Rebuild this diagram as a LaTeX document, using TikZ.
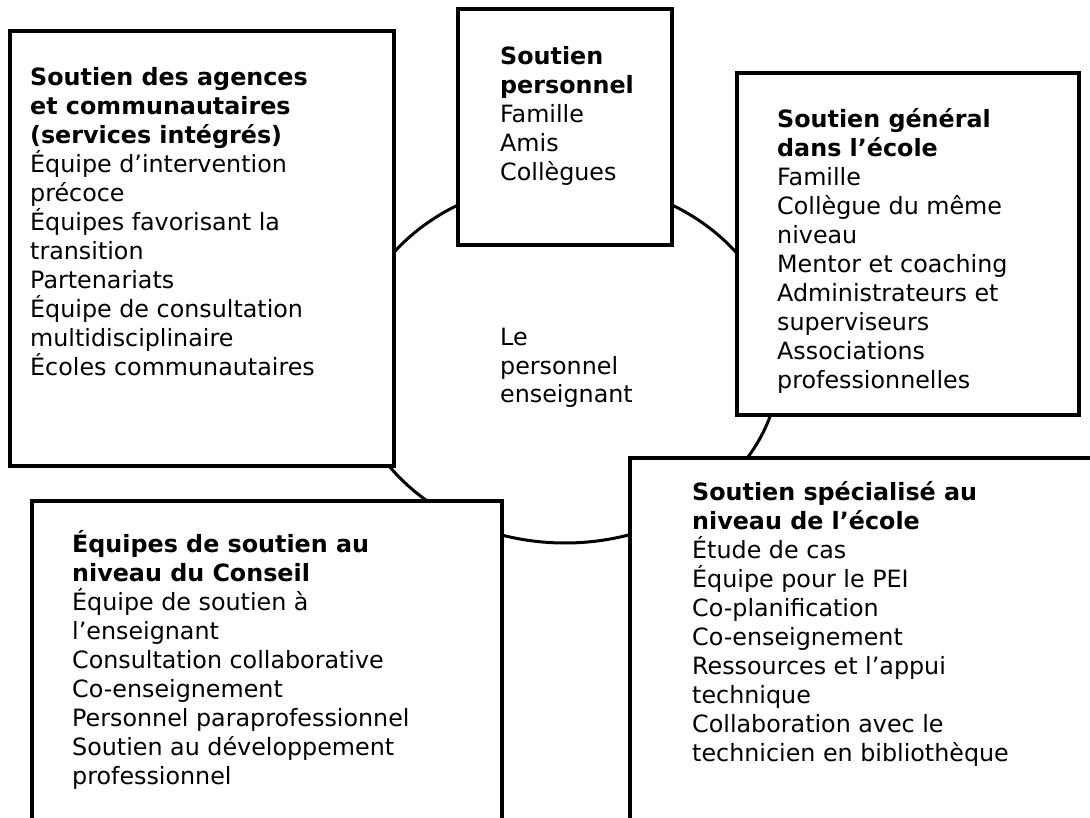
\documentclass[tikz,border=0pt]{standalone}
\usepackage{fontspec}
\setmainfont{DejaVu Sans}
\newcommand\linestack[1]{\vtop{\baselineskip=29pt\lineskiplimit=-100pt\halign{##\hfil\cr#1\crcr}}}
\tikzset{
  boxst/.style={draw=black,fill=white,line width=3.5pt},
  ringst/.style={draw=black,line width=3pt},
  txt/.style={anchor=base west,inner sep=0pt,font=\fontsize{23.8}{29}\selectfont},
}
\begin{document}
\begin{tikzpicture}[x=1pt,y=-1pt]
\useasboundingbox (0,0) rectangle (1090,818);
\clip (0,0) rectangle (1090,818);
\fill[white] (0,0) rectangle (1090,818);
% central ring
\draw[ringst] (565,362) ellipse [x radius=215, y radius=181];
% boxes
\path[boxst] (10,31) rectangle (394,466);
\path[boxst] (458,9) rectangle (672,245);
\path[boxst] (737,73) rectangle (1079,415);
\path[boxst] (32,501) rectangle (502,840);
\path[boxst] (630,458) rectangle (1110,840);
% texts
\node[txt] (agences) at (30,86) {\linestack{%
\textbf{Soutien des agences}\cr
\textbf{et communautaires}\cr
\textbf{(services intégrés)}\cr
Équipe d’intervention\cr
précoce\cr
Équipes favorisant la\cr
transition\cr
Partenariats\cr
Équipe de consultation\cr
multidisciplinaire\cr
Écoles communautaires}};
\node[txt] (perso) at (500,65) {\linestack{%
\textbf{Soutien}\cr
\textbf{personnel}\cr
Famille\cr
Amis\cr
Collègues}};
\node[txt] (general) at (777,128) {\linestack{%
\textbf{Soutien général}\cr
\textbf{dans l’école}\cr
Famille\cr
Collègue du même\cr
niveau\cr
Mentor et coaching\cr
Administrateurs et\cr
superviseurs\cr
Associations\cr
professionnelles}};
\node[txt] (centre) at (500,345) {\linestack{%
Le\cr
personnel\cr
enseignant}};
\node[txt] (conseil) at (72,552) {\linestack{%
\textbf{Équipes de soutien au}\cr
\textbf{niveau du Conseil}\cr
Équipe de soutien à\cr
l’enseignant\cr
Consultation collaborative\cr
Co-enseignement\cr
Personnel paraprofessionnel\cr
Soutien au développement\cr
professionnel}};
\node[txt] (special) at (692,500) {\linestack{%
\textbf{Soutien spécialisé au}\cr
\textbf{niveau de l’école}\cr
Étude de cas\cr
Équipe pour le PEI\cr
Co-planification\cr
Co-enseignement\cr
Ressources et l’appui\cr
technique\cr
Collaboration avec le\cr
technicien en bibliothèque}};
\end{tikzpicture}
\end{document}
